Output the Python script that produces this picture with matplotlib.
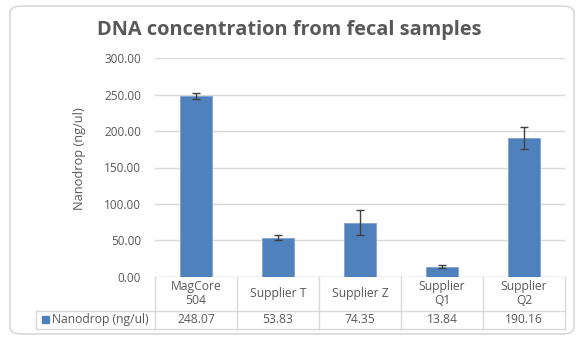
import numpy as np
import matplotlib.pyplot as plt
from matplotlib.patches import FancyBboxPatch, Rectangle
from matplotlib.lines import Line2D

plt.rcParams['font.family'] = ['Open Sans', 'DejaVu Sans']

# data
categories = ["MagCore\n504", "Supplier T", "Supplier Z", "Supplier\nQ1", "Supplier\nQ2"]
values = [248.07, 53.83, 74.35, 13.84, 190.16]
errors = [4.5, 3.0, 17.0, 2.5, 15.0]
value_labels = ["248.07", "53.83", "74.35", "13.84", "190.16"]
series_name = "Nanodrop (ng/ul)"
yticks = [0, 50, 100, 150, 200, 250, 300]

W, H = 578, 338
fig = plt.figure(figsize=(W / 100, H / 100), dpi=100)
fig.patch.set_facecolor('white')

txt = '#595959'
grid = '#d9d9d9'
blue = '#4f81bd'

# rounded chart frame
frame = FancyBboxPatch((10 / W, 1 - 334 / H), 564 / W, 328 / H,
                       boxstyle="round,pad=0,rounding_size=0.02",
                       transform=fig.transFigure, facecolor='white',
                       edgecolor='#d0d0d0', lw=1.0, zorder=-5)
fig.patches.append(frame)

ax_l, ax_r, ax_t, ax_b = 155, 565, 58.3, 276.7
ax = fig.add_axes([ax_l / W, 1 - ax_b / H, (ax_r - ax_l) / W, (ax_b - ax_t) / H])
ax.set_facecolor('none')
ax.set_zorder(2)

x = np.arange(len(values))
ax.bar(x, values, width=0.39, color=blue, edgecolor='#7fa3d1', lw=0.6, zorder=3)
ax.errorbar(x, values, yerr=errors, fmt='none', ecolor='#404040',
            elinewidth=1.0, capsize=3, capthick=1.0, zorder=4)

ax.set_xlim(-0.5, len(values) - 0.5)
ax.set_ylim(0, 300)
ax.set_yticks(yticks)
ax.set_yticklabels([f"{v:.2f}" for v in yticks], color=txt, fontsize=8.5)
ax.tick_params(axis='y', length=0, pad=10)
ax.set_xticks([])
ax.grid(axis='y', color=grid, lw=1.0, zorder=0)
for s in ax.spines.values():
    s.set_visible(False)
ax.axhline(0, color=grid, lw=1.0, zorder=2)
ax.set_ylabel(series_name, color=txt, fontsize=9.2)
ph = ax_b - ax_t
ax.yaxis.set_label_coords(-(ax_l - 80) / (ax_r - ax_l), (ax_b - 159) / ph)
ax.yaxis.label.set_va('center')

fig.text(289 / W, 1 - 30.5 / H, "DNA concentration from fecal samples",
         ha='center', va='center', fontsize=14.4, fontweight='bold', color=txt)

# data table under the axis
tr = ax.get_xaxis_transform()
r1 = -(310.7 - ax_b) / ph
r2 = -(329 - ax_b) / ph
cw = (ax_r - ax_l) / len(values)
left = -0.5 - (ax_l - 35.7) / cw
right = len(values) - 0.5

def hline(y, x0, x1):
    ax.add_line(Line2D([x0, x1], [y, y], transform=tr, color=grid, lw=1.0, clip_on=False))

def vline(xv, y0, y1):
    ax.add_line(Line2D([xv, xv], [y0, y1], transform=tr, color=grid, lw=1.0, clip_on=False))

hline(r1, left, right)
hline(r2, left, right)
vline(left, r1, r2)
for b in np.arange(len(values) + 1) - 0.5:
    vline(b, 0, r2)

for i, (c, v) in enumerate(zip(categories, value_labels)):
    ax.text(i, r1 / 2, c, transform=tr, ha='center', va='center',
            fontsize=8.7, color=txt, linespacing=1.15, clip_on=False)
    ax.text(i, (r1 + r2) / 2, v, transform=tr, ha='center', va='center',
            fontsize=8.7, color=txt, clip_on=False)

ax.add_patch(Rectangle((left + 6 / cw, (r1 + r2) / 2 - 3.5 / ph), 7 / cw, 7 / ph,
                       transform=tr, color=blue, clip_on=False))
ax.text(left + 16 / cw, (r1 + r2) / 2, series_name, transform=tr, ha='left',
        va='center', fontsize=8.7, color=txt, clip_on=False)

fig.savefig('out.png', dpi=100)
